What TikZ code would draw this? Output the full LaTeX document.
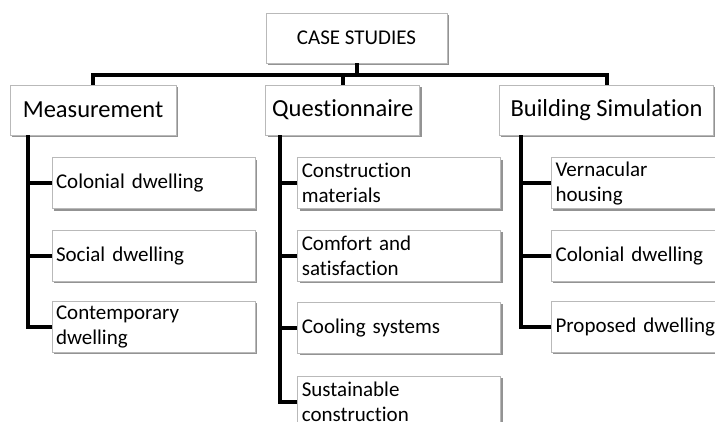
\documentclass[tikz,border=0pt]{standalone}
\usepackage{fontspec}
\setmainfont{Carlito}[Ligatures=NoCommon]
\usetikzlibrary{positioning, shadows}

\begin{document}
\begin{tikzpicture}[
    x=1pt, y=-1pt,
    heading/.style={rectangle, draw=gray!55, line width=0.8pt, fill=white, drop shadow={shadow xshift=1.8pt, shadow yshift=-1.8pt, fill=gray!85, opacity=1}, minimum height=50pt, inner sep=0pt, font=\fontsize{24.5}{25}\selectfont},
    item/.style={heading, text width=195pt, minimum height=51pt, align=left, inner xsep=4pt, font=\fontsize{21}{25}\selectfont},
    link/.style={line width=4pt, black}
]
\useasboundingbox[fill=white] (0,0) rectangle (715,421);
\clip (0,0) rectangle (715,421);

% top level
\node [heading, minimum width=181pt, font=\fontsize{21}{24}\selectfont] (case) at (356.5,38) {CASE STUDIES};
\node [heading, minimum width=166pt] (meas) at (93,110) {Measurement};
\node [heading, minimum width=154pt, right=89pt of meas] (quest) {Questionnaire};
\node [heading, minimum width=214pt, right=79pt of quest] (sim) {Building Simulation};

% measurement branch
\node [item, below right=22pt and 42pt of meas.south west] (meas1) {Colonial dwelling};
\node [item, below=21pt of meas1] (meas2) {Social dwelling};
\node [item, below=19pt of meas2] (meas3) {Contemporary\\dwelling};

% questionnaire branch
\node [item, below right=22pt and 32pt of quest.south west] (quest1) {Construction\\materials};
\node [item, below=21pt of quest1] (quest2) {Comfort and\\satisfaction};
\node [item, below=20pt of quest2] (quest3) {Cooling systems};
\node [item, below=22pt of quest3] (quest4) {Sustainable\\construction};

% simulation branch
\node [item, below right=22pt and 52pt of sim.south west] (sim1) {Vernacular\\housing};
\node [item, below=21pt of sim1] (sim2) {Colonial dwelling};
\node [item, below=19pt of sim2] (sim3) {Proposed dwelling};

\draw [link] (case.south) -- ++(0,12) coordinate (bus);
\draw [link] (meas.north) |- (bus) -| (sim.north);
\draw [link] (bus -| quest.north) -- (quest.north);

\coordinate (mtrunk) at ([xshift=18pt]meas.south west);
\coordinate (qtrunk) at ([xshift=15pt]quest.south west);
\coordinate (strunk) at ([xshift=22pt]sim.south west);
\draw [link] (mtrunk) |- (meas3.west);
\draw [link] (qtrunk) |- (quest4.west);
\draw [link] (strunk) |- (sim3.west);
\foreach \n in {meas1, meas2}
    \draw [link] (mtrunk |- \n.west) -- (\n.west);
\foreach \n in {quest1, quest2, quest3}
    \draw [link] (qtrunk |- \n.west) -- (\n.west);
\foreach \n in {sim1, sim2}
    \draw [link] (strunk |- \n.west) -- (\n.west);
\end{tikzpicture}
\end{document}
